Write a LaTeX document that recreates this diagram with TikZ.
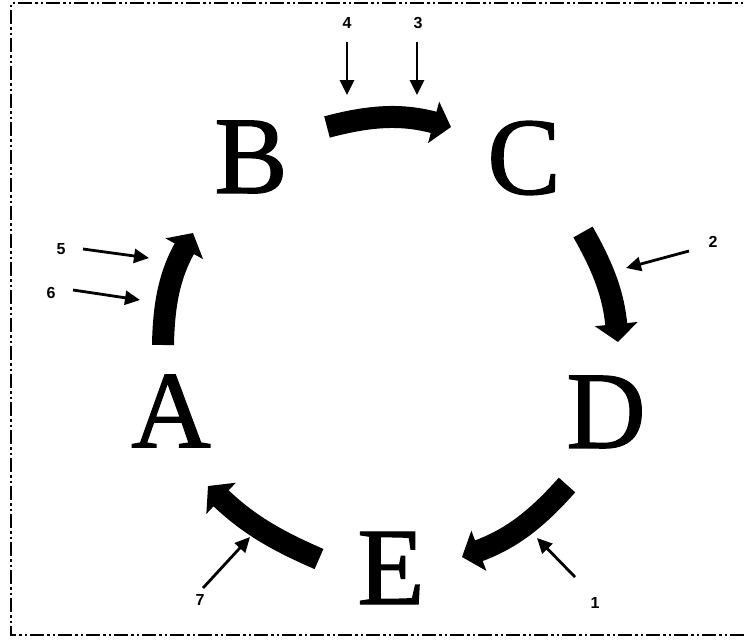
\documentclass[tikz,border=0pt]{standalone}
\usepackage{fontspec}
\setmainfont{Liberation Serif}
\newfontfamily\letterfont[FakeBold=1.2]{Liberation Serif}
\newfontfamily\labfont{Liberation Sans}
\usetikzlibrary{arrows.meta}
\tikzset{
  letter/.style={font=\letterfont\fontsize{110}{110}\selectfont, inner sep=0pt, anchor=center},
  numlab/.style={font=\labfont\bfseries\fontsize{16}{16}\selectfont, inner sep=0pt},
  bigarrow/.style={line width=22pt, line cap=butt, -{Triangle[length=18pt,width=42pt]}},
  thinarrow/.style={line width=2.8pt, -{Triangle[length=15pt,width=14pt]}},
  frame/.style={line width=2.4pt, dash pattern=on 14pt off 3pt on 2.5pt off 3pt on 2.5pt off 3pt}
}
\begin{document}
\begin{tikzpicture}[x=1pt,y=-1pt]
\useasboundingbox (0,0) rectangle (746,640);
\draw[frame] (760,3) -- (11,3) -- (11,635) -- (760,635);
% letters
\node[letter] (A) at (171,411) {A};
\node[letter] (B) at (251,157) {B};
\node[letter] (C) at (524,158) {C};
\node[letter] (D) at (606,412) {D};
\node[letter] (E) at (391,568) {E};
% big cycle arrows
\coordinate (bc1) at (327,127); \coordinate (bc2) at (451,127);
\coordinate (cd1) at (583,232); \coordinate (cd2) at (618,342);
\coordinate (de1) at (567,485); \coordinate (de2) at (462,557);
\coordinate (ea1) at (319,559); \coordinate (ea2) at (208,486);
\coordinate (ab1) at (163,345); \coordinate (ab2) at (193,233);
\draw[bigarrow] (bc1) to[bend left=15] (bc2);
\draw[bigarrow] (cd1) to[bend left=12] (cd2);
\draw[bigarrow] (de1) to[bend left=14] (de2);
\draw[bigarrow] (ea1) to[bend left=10] (ea2);
\draw[bigarrow] (ab1) to[bend left=14] (ab2);
% numbered labels and thin arrows
\node[numlab] (n1) at (595,603) {1};
\node[numlab] (n2) at (713,242) {2};
\node[numlab] (n3) at (418,23) {3};
\node[numlab] (n4) at (347,23) {4};
\node[numlab] (n5) at (61,249) {5};
\node[numlab] (n6) at (51,293) {6};
\node[numlab] (n7) at (200,600) {7};
\coordinate (s1) at (575,577); \coordinate (t1) at (537,538);
\coordinate (s2) at (689,251); \coordinate (t2) at (626,268);
\coordinate (s3) at (417,42);  \coordinate (t3) at (417,95);
\coordinate (s4) at (347,42);  \coordinate (t4) at (347,95);
\coordinate (s5) at (83,249);  \coordinate (t5) at (149,258);
\coordinate (s6) at (73,290);  \coordinate (t6) at (140,300);
\coordinate (s7) at (203,588); \coordinate (t7) at (250,537);
\foreach \i in {1,...,7} {\draw[thinarrow] (s\i) -- (t\i);}
\end{tikzpicture}
\end{document}
